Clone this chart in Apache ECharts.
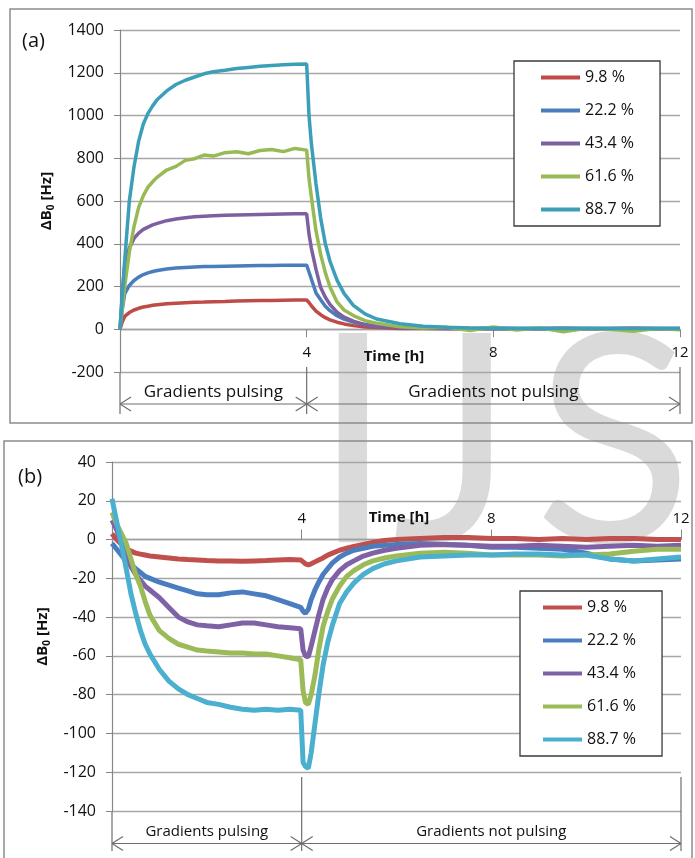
<!DOCTYPE html>
<html>
<head>
<meta charset="utf-8">
<script src="https://cdn.jsdelivr.net/npm/echarts@6/dist/echarts.min.js"></script>
<style>
  html, body { margin: 0; padding: 0; background: #fff; }
  #chart { width: 695px; height: 858px; }
</style>
</head>
<body>
<div id="chart"></div>
<script>
const FONT = '"Open Sans", Lato, sans-serif';

const names = ['9.8 %', '22.2 %', '43.4 %', '61.6 %', '88.7 %'];
const colorsA = ['#be4b48', '#4a7ebb', '#7d60a0', '#98b954', '#3c9fb8'];
const colorsB = ['#c0504d', '#4a7dc0', '#7f62a6', '#9bbb59', '#4bafcf'];
const xTickHours = [4, 8, 12];

// (a) heating with gradients on, then decay
const timeA = [0, 0.05, 0.1, 0.2, 0.3, 0.4, 0.5, 0.6, 0.7, 0.8, 1.0, 1.2, 1.4, 1.6, 1.8, 2.0,
  2.25, 2.5, 2.75, 3.0, 3.25, 3.5, 3.75, 4.0, 4.05, 4.1, 4.2, 4.3, 4.4, 4.5, 4.65, 4.8,
  5.0, 5.25, 5.5, 6.0, 6.5, 7.0, 7.5, 8.0, 8.5, 9.0, 9.5, 10.0, 10.5, 11.0, 11.5, 12.0];
const redA = [0, 35, 60, 78, 90, 98, 104, 108, 112, 115, 119, 122, 124, 126, 127, 129,
  130, 132, 133, 134, 135, 136, 137, 137, 125, 110, 85, 68, 54, 44, 33, 25,
  17, 11, 8, 4, 3, 3, 2, 3, 2, 2, 3, 2, 2, 3, 2, 2];
const blueA = [0, 95, 165, 205, 228, 244, 256, 264, 270, 275, 282, 286, 289, 291, 293, 294,
  295, 296, 297, 298, 298, 299, 300, 300, 268, 235, 170, 138, 108, 87, 63, 47,
  33, 22, 15, 8, 5, 4, 4, 3, 4, 3, 3, 4, 3, 3, 4, 3];
const purpleA = [0, 170, 300, 380, 425, 450, 467, 478, 488, 495, 508, 516, 522, 526, 529, 531,
  533, 535, 536, 537, 538, 539, 540, 540, 445, 380, 280, 195, 150, 116, 80, 57,
  38, 20, 12, 7, 5, 4, 4, 5, 4, 4, 5, 4, 4, 5, 4, 4];
const greenA = [0, 100, 200, 360, 480, 570, 625, 665, 690, 712, 745, 762, 790, 798, 815, 810,
  826, 830, 821, 836, 841, 831, 846, 838, 705, 620, 460, 350, 265, 198, 128, 90,
  64, 40, 28, 12, 6, 9, -6, 11, -3, 7, -12, 5, 0, -9, 4, -2];
const tealA = [0, 160, 320, 600, 760, 880, 960, 1010, 1045, 1075, 1115, 1145, 1165, 1180, 1195, 1205,
  1212, 1220, 1225, 1230, 1234, 1237, 1240, 1241, 1000, 870, 680, 520, 400, 318, 230, 168,
  112, 72, 48, 26, 14, 9, 6, 5, 4, 4, 3, 4, 3, 3, 4, 3];

// (b)
const timeB = [0, 0.1, 0.2, 0.3, 0.4, 0.5, 0.6, 0.7, 0.8, 1.0, 1.2, 1.4, 1.6, 1.8, 2.0,
  2.25, 2.5, 2.75, 3.0, 3.25, 3.5, 3.75, 3.98, 4.03, 4.08, 4.14, 4.2,
  4.28, 4.36, 4.45, 4.55, 4.65, 4.8, 4.95, 5.1, 5.3, 5.5, 5.75, 6.0,
  6.5, 7.0, 7.5, 8.0, 8.5, 9.0, 9.5, 10.0, 10.5, 11.0, 11.5, 12.0];
const redB = [3, 0, -2.5, -4.5, -6, -7, -7.5, -8, -8.5, -9, -9.5, -10, -10.3, -10.5, -10.8,
  -11, -11, -11.2, -11, -10.8, -10.5, -10.3, -10.5, -11.5, -12.5, -13, -12.5,
  -11.5, -10.5, -9.5, -8, -7, -5.5, -4.5, -3.5, -2.5, -1.5, -0.5, 0,
  0.5, 1, 1, 0.5, 0.5, 0, 0.5, 0, 0.5, 0.5, 0, 0];
const blueB = [-2, -5, -8, -11, -13, -15, -17, -19, -20, -22, -23.5, -25, -26.5, -28, -28.5,
  -28.5, -27.5, -27, -28, -29, -31, -33, -35, -37, -38, -36, -31,
  -26, -22, -18, -15, -12, -9, -7, -5.5, -4.5, -3.5, -3, -2.5,
  -2, -2.5, -3, -4, -4, -4.5, -5, -7, -10, -11, -10.5, -10];
const purpleB = [10, 5, -2, -9, -14, -18, -21, -24, -26, -30, -35, -40, -42.5, -44, -44.5,
  -45, -44, -43, -43, -44, -45, -45.5, -46, -57, -60, -60.5, -55,
  -47, -39, -31, -25, -20.5, -16, -13, -11, -8.5, -7, -5.5, -4.5,
  -3, -2.5, -3, -3.5, -3.5, -3, -3.5, -4, -3.5, -3, -3.5, -3];
const greenB = [14, 8, 3, -2, -10, -18, -24, -32, -39, -47, -51, -54, -55.5, -57, -57.5,
  -58, -58.5, -58.5, -59, -59, -60, -61, -62, -78, -84, -85, -80,
  -70, -57, -45, -37, -30.5, -24, -19, -16, -13, -11, -9.5, -8.5,
  -7, -6.5, -7, -8, -8, -8, -8.5, -8, -7.5, -6, -5, -5];
const tealB = [21, 9, -3, -15, -28, -38, -47, -54, -59, -67, -73, -77, -80, -82, -84,
  -85, -86.5, -87.5, -88, -87.5, -88, -87.5, -88, -115, -117, -118, -110,
  -95, -80, -65, -53, -44, -33, -27, -22.5, -18, -15, -12.5, -11,
  -9, -8.5, -8, -8, -7.5, -7.5, -8, -8, -10, -11, -10, -9];

const valuesA = [redA, blueA, purpleA, greenA, tealA];
const valuesB = [redB, blueB, purpleB, greenB, tealB];

const chart = echarts.init(document.getElementById('chart'), null, { renderer: 'canvas' });

const gridLine = { color: '#a6a6a6', width: 1.4 };
const axisGrey = '#868686';

function yAxisOf(gridIndex, min, max, step, gap) {
  return {
    gridIndex,
    type: 'value',
    min,
    max,
    interval: step,
    axisLine: { show: true, lineStyle: { color: axisGrey, width: 1.2 } },
    axisTick: { show: true, length: 6, lineStyle: { color: axisGrey } },
    axisLabel: { margin: 16, fontSize: 16, color: '#111', fontFamily: FONT, formatter: (v) => String(v) },
    splitLine: { show: true, lineStyle: gridLine },
    name: '{d|ΔB}{s|0}{d| [Hz]}',
    nameLocation: 'middle',
    nameRotate: 90,
    nameGap: gap,
    nameTextStyle: {
      rich: {
        d: { fontSize: 15, fontWeight: 'bold', fontFamily: FONT, color: '#111', lineHeight: 20 },
        s: { fontSize: 10, fontWeight: 'bold', fontFamily: FONT, color: '#111', verticalAlign: 'bottom', lineHeight: 14 },
      },
    },
  };
}

function xAxisOf(gridIndex, inside) {
  return {
    gridIndex,
    type: 'value',
    min: 0,
    max: 12,
    interval: 4,
    offset: 0,
    axisLine: { onZero: false, lineStyle: { color: '#a0a0a0', width: 1.4 } },
    axisTick: { show: true, inside, length: inside ? 10 : 8, lineStyle: { color: axisGrey } },
    axisLabel: {
      inside,
      margin: inside ? 13 : 16,
      fontSize: 15,
      color: '#111',
      fontFamily: FONT,
      formatter: (v) => (xTickHours.includes(v) ? String(v) : ''),
    },
    splitLine: { show: false },
  };
}

function legendOf(data, left, top, padLeft, fmt) {
  return {
    data,
    orient: 'vertical',
    left,
    top,
    icon: 'rect',
    itemWidth: 39,
    itemHeight: 4,
    itemGap: 0,
    padding: [0, 26, 0, padLeft],
    borderColor: '#3a3a3a',
    borderWidth: 1.3,
    backgroundColor: '#fff',
    formatter: fmt,
    textStyle: { fontSize: 16, lineHeight: 33, color: '#111', fontFamily: FONT },
    selectedMode: false,
  };
}

const series = [];
names.forEach((name, i) => {
  series.push({
    name,
    type: 'line',
    xAxisIndex: 0,
    yAxisIndex: 0,
    showSymbol: false,
    color: colorsA[i],
    lineStyle: { width: 3.5, color: colorsA[i] },
    data: timeA.map((t, k) => [t, valuesA[i][k]]),
  });
});
names.forEach((name, i) => {
  series.push({
    name: 'b:' + name,
    type: 'line',
    xAxisIndex: 1,
    yAxisIndex: 1,
    showSymbol: false,
    color: colorsB[i],
    lineStyle: { width: 5, color: colorsB[i] },
    data: timeB.map((t, k) => [t, valuesB[i][k]]),
  });
});

chart.setOption({
  animation: false,
  backgroundColor: '#fff',
  grid: [
    { left: 120, right: 15, top: 30, height: 342 },
    { left: 112, right: 14, top: 462, height: 349 },
  ],
  xAxis: [xAxisOf(0, false), xAxisOf(1, true)],
  yAxis: [yAxisOf(0, -200, 1400, 200, 62), yAxisOf(1, -140, 40, 20, 54)],
  legend: [
    legendOf(names, 514, 61, 27, (n) => n),
    legendOf(names.map((n) => 'b:' + n), 520, 591, 23, (n) => n.slice(2)),
  ],
  series,
});

// move each x axis up to the zero line (labels follow)
function zeroOffset(gridIndex, yMin) {
  const y0 = chart.convertToPixel({ gridIndex }, [0, 0])[1];
  const yb = chart.convertToPixel({ gridIndex }, [0, yMin])[1];
  return y0 - yb;
}

// decorations: frames, panel letters, dimension arrows, watermark
function dimension(gridIndex, yMin, midTop, arrowOff, endOff, textSize) {
  const px = (t, v) => chart.convertToPixel({ gridIndex }, [t, v]);
  const x0 = px(0, yMin)[0];
  const x4 = px(4, yMin)[0];
  const x12 = px(12, yMin)[0];
  const yb = px(0, yMin)[1];
  const ya = yb + arrowOff;
  const ye = yb + endOff;
  const st = { stroke: '#6e6e6e', lineWidth: 1.2 };
  const line = (x1, y1, x2, y2) => ({ type: 'line', shape: { x1, y1, x2, y2 }, style: st, silent: true });
  const ah = 11;
  const av = 7;
  return [
    line(x0, yb, x0, ye),
    line(x4, yb + midTop, x4, ye),
    line(x12, yb + midTop, x12, ye),
    line(x0, ya, x12, ya),
    line(x0, ya, x0 + ah, ya - av), line(x0, ya, x0 + ah, ya + av),
    line(x4, ya, x4 - ah, ya - av), line(x4, ya, x4 - ah, ya + av),
    line(x4, ya, x4 + ah, ya - av), line(x4, ya, x4 + ah, ya + av),
    line(x12, ya, x12 - ah, ya - av), line(x12, ya, x12 - ah, ya + av),
    {
      type: 'text', x: (x0 + x4) / 2, y: ya - 12, silent: true,
      style: { text: 'Gradients pulsing', fontSize: textSize, fontFamily: FONT, fill: '#111', align: 'center', verticalAlign: 'middle' },
    },
    {
      type: 'text', x: (x4 + x12) / 2, y: ya - 12, silent: true,
      style: { text: 'Gradients not pulsing', fontSize: textSize, fontFamily: FONT, fill: '#111', align: 'center', verticalAlign: 'middle' },
    },
  ];
}

function timeLabel(gridIndex, dx, dy) {
  const p = chart.convertToPixel({ gridIndex }, [4, 0]);
  return {
    type: 'text', x: p[0] + dx, y: p[1] + dy, silent: true,
    style: { text: 'Time [h]', fontSize: 15, fontWeight: 'bold', fontFamily: FONT, fill: '#111', align: 'left', verticalAlign: 'middle' },
  };
}

const wm = { fontSize: 292, fontFamily: 'Lato, sans-serif', fill: '#dadada', verticalAlign: 'middle', align: 'left' };
const graphics = [
  { type: 'text', x: 312, y: 448, z: -10, silent: true, style: Object.assign({ text: 'I' }, wm) },
  { type: 'text', x: 392, y: 448, z: -10, silent: true, style: Object.assign({ text: 'J' }, wm) },
  { type: 'text', x: 534, y: 448, z: -10, silent: true, style: Object.assign({ text: 'S' }, wm) },
  { type: 'rect', shape: { x: 10, y: 9, width: 682, height: 414 }, style: { fill: 'none', stroke: '#8c8c8c', lineWidth: 1.5 }, silent: true },
  { type: 'rect', shape: { x: 4, y: 441, width: 688, height: 440 }, style: { fill: 'none', stroke: '#8c8c8c', lineWidth: 1.5 }, silent: true },
  { type: 'text', x: 22, y: 41, silent: true, style: { text: '(a)', fontSize: 20, fontFamily: FONT, fill: '#111', verticalAlign: 'middle' } },
  { type: 'text', x: 18, y: 477, silent: true, style: { text: '(b)', fontSize: 20, fontFamily: FONT, fill: '#111', verticalAlign: 'middle' } },
  timeLabel(0, 57, 27),
  timeLabel(1, 67, -22),
]
  .concat(dimension(0, -200, -5, 32, 42, 17))
  .concat(dimension(1, -140, -34, 32.5, 40, 15));

chart.setOption({
  xAxis: [{ offset: zeroOffset(0, -200) }, { offset: zeroOffset(1, -140) }],
  graphic: graphics,
});
</script>
</body>
</html>
